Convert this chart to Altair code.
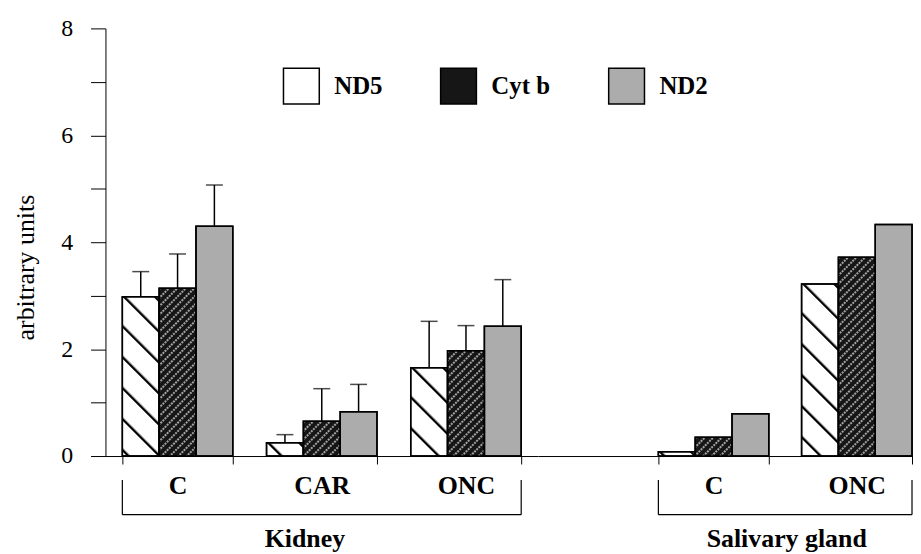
import base64
import altair as alt
import pandas as pd

# ---- data ----
series = ["ND5", "Cyt b", "ND2"]

kidney_groups = ["C", "CAR", "ONC"]
kidney_nd5 = [2.98, 0.25, 1.65]
kidney_cytb = [3.14, 0.65, 1.97]
kidney_nd2 = [4.30, 0.83, 2.43]
kidney_nd5_sd = [0.47, 0.15, 0.87]
kidney_cytb_sd = [0.64, 0.61, 0.47]
kidney_nd2_sd = [0.77, 0.51, 0.87]

saliva_groups = ["C", "ONC"]
saliva_nd5 = [0.08, 3.22]
saliva_cytb = [0.35, 3.72]
saliva_nd2 = [0.79, 4.33]

y_ticks = [0, 1, 2, 3, 4, 5, 6, 7, 8]

# ---- tables ----
def long_table(groups, cols, sds=None):
    rows = []
    for si, s in enumerate(series):
        for gi, g in enumerate(groups):
            r = {"group": g, "series": s, "value": cols[si][gi]}
            if sds is not None:
                r["sd"] = sds[si][gi]
            rows.append(r)
    return pd.DataFrame(rows)

kidney_df = long_table(kidney_groups, [kidney_nd5, kidney_cytb, kidney_nd2],
                       [kidney_nd5_sd, kidney_cytb_sd, kidney_nd2_sd])
saliva_df = long_table(saliva_groups, [saliva_nd5, saliva_cytb, saliva_nd2])
one_row = pd.DataFrame({"k": [0]})

FONT = "Liberation Serif"
fills = ["#ffffff", "#161616", "#acacac"]

# hatch textures (drawn over the bars, same rectangles from the scales)
def svg_url(svg):
    return "data:image/svg+xml;base64," + base64.b64encode(svg.encode()).decode()

hatch_nd5 = svg_url(
    '<svg xmlns="http://www.w3.org/2000/svg"><defs>'
    '<pattern id="p" patternUnits="userSpaceOnUse" width="22" height="22" '
    'patternTransform="rotate(-45)"><rect x="0" y="0" width="2.4" height="22" fill="black"/>'
    '</pattern></defs><rect width="100%" height="100%" fill="url(#p)"/></svg>')
hatch_cytb = svg_url(
    '<svg xmlns="http://www.w3.org/2000/svg"><defs>'
    '<pattern id="p" patternUnits="userSpaceOnUse" width="6" height="6" '
    'patternTransform="rotate(45)"><line x1="1" y1="0" x2="1" y2="6" stroke="white" '
    'stroke-width="1.2" stroke-dasharray="2 1"/>'
    '</pattern></defs><rect width="100%" height="100%" fill="url(#p)"/></svg>')
hatches = {"ND5": hatch_nd5, "Cyt b": hatch_cytb}

legend = alt.Legend(title=None, orient="none", legendX=178, legendY=39,
                    direction="horizontal", symbolType="square", symbolSize=1296,
                    symbolStrokeColor="black", symbolStrokeWidth=1.5, symbolOpacity=1,
                    labelFont=FONT, labelFontSize=25, labelFontWeight="bold",
                    labelColor="black", labelOffset=14, columnPadding=55, padding=0)
color = alt.Color("series:N", scale=alt.Scale(domain=series, range=fills), legend=legend)

def y_enc(field):
    return alt.Y(field, type="quantitative",
                 scale=alt.Scale(domain=[0, 8], nice=False, zero=True),
                 axis=alt.Axis(values=y_ticks,
                               labelExpr="datum.value % 2 == 0 ? datum.label : ''",
                               tickSize=15, labelPadding=18, labelFontSize=24,
                               labelFont=FONT, labelColor="black",
                               domainColor="black", tickColor="black",
                               title="arbitrary units", titleFont=FONT, titleFontSize=26,
                               titleFontWeight="normal", titleColor="black",
                               titleX=-80, titleY=240, titleBaseline="middle",
                               grid=False))

def x_axis():
    return alt.Axis(title=None, labelAngle=0, labelFont=FONT, labelFontSize=26,
                    labelFontWeight="bold", labelColor="black", tickSize=8,
                    labelPadding=9, tickBand="extent", tickExtra=False,
                    domainColor="black", tickColor="black", grid=False)

def panel(df, groups, scale_kw, width, with_err, with_yaxis, title, title_dx):
    x = alt.X("group:N", scale=alt.Scale(domain=groups, **scale_kw), axis=x_axis())
    xo = alt.XOffset("series:N", scale=alt.Scale(domain=series, paddingInner=0, paddingOuter=0))
    if with_yaxis:
        y = y_enc("value")
    else:
        y = alt.Y("value:Q", scale=alt.Scale(domain=[0, 8], nice=False), axis=None)
    base = alt.Chart(df)
    bars = base.mark_bar(stroke="black", strokeWidth=1.5).encode(x=x, xOffset=xo, y=y, color=color)
    layers = [bars]
    for s, url in hatches.items():
        layers.append(
            base.transform_filter(alt.datum.series == s)
            .mark_image(url=url, aspect=False)
            .encode(x=x, xOffset=xo, y=y, y2=alt.Y2Datum(0)))
    outline = base.mark_bar(fillOpacity=0, stroke="black", strokeWidth=1.5).encode(
        x=x, xOffset=xo, y=y)
    layers.append(outline)
    if with_err:
        calc = base.transform_calculate(upper="datum.value + datum.sd")
        err = calc.mark_rule(color="black", strokeWidth=1.5).encode(
            x=x, xOffset=xo, y=y_enc("value"), y2="upper:Q")
        cap = calc.mark_tick(color="black", thickness=1.5, size=17).encode(
            x=x, xOffset=xo, y=y_enc("upper"))
        layers += [err, cap]
    first, last = groups[0], groups[-1]
    hline = alt.Chart(one_row).mark_rule(color="black", strokeWidth=1.2).encode(
        x=alt.XDatum(first, bandPosition=0), x2=alt.X2Datum(last, bandPosition=1),
        y=alt.value(489))
    vl = alt.Chart(one_row).mark_rule(color="black", strokeWidth=1.2).encode(
        x=alt.XDatum(first, bandPosition=0), y=alt.value(454), y2=alt.value(489))
    vr = alt.Chart(one_row).mark_rule(color="black", strokeWidth=1.2).encode(
        x=alt.XDatum(last, bandPosition=1), y=alt.value(454), y2=alt.value(489))
    layers += [hline, vl, vr]
    return alt.layer(*layers).properties(
        width=width, height=430,
        view=alt.ViewBackground(stroke="transparent", strokeWidth=0),
        title=alt.Title(title, orient="bottom", font=FONT, fontSize=26, fontWeight="bold",
                        color="black", offset=11, dx=title_dx, anchor="middle"))

kidney = panel(kidney_df, kidney_groups, dict(paddingInner=0.234, paddingOuter=0.117),
               435, True, True, "Kidney", -17)
saliva = panel(saliva_df, saliva_groups, dict(paddingInner=0.229, paddingOuter=0.42, align=1),
               376, False, False, "Salivary gland", 62)

chart = alt.hconcat(kidney, saliva, spacing=0).resolve_scale(y="shared").properties(
    padding={"left": 5, "top": 7, "right": 0, "bottom": 0}
).configure_view(stroke="transparent", strokeWidth=0).configure_axis(
    grid=False, gridColor="transparent"
).configure(font=FONT)

chart.save("out.html", embed_options={"renderer": "svg", "actions": False})
